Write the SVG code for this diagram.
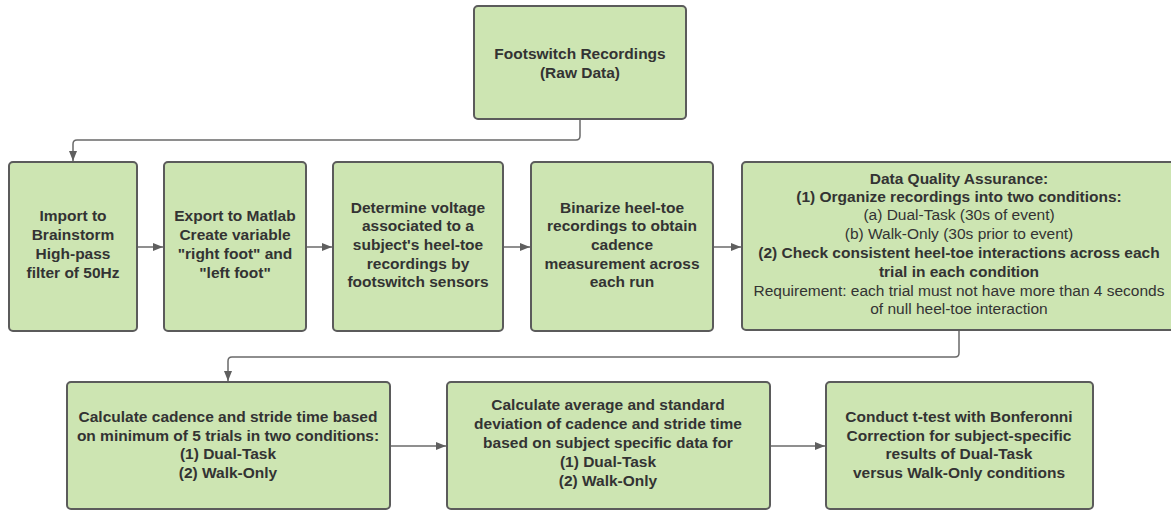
<svg xmlns="http://www.w3.org/2000/svg" width="1171" height="510" viewBox="0 0 1171 510">
<defs>
<marker id="arr" viewBox="0 0 10 8" refX="10" refY="4" markerWidth="10" markerHeight="8" markerUnits="userSpaceOnUse" orient="auto">
<path d="M0,0 L10,4 L0,8 Z" fill="#5f5f5f"/>
</marker>
<style>
.box{fill:#cde5b2;stroke:#5b5b5b;stroke-width:2}
.t{font-family:"Liberation Sans",Arial,sans-serif;font-size:15.5px;fill:#333333;text-anchor:middle}
.b{font-weight:bold}
.c{fill:none;stroke:#6a6a6a;stroke-width:1.5}
</style>
</defs>
<rect width="1171" height="510" fill="#ffffff"/>
<g id="connectors">
<path class="c" d="M580,119 V136 Q580,140 576,140 H77 Q73,140 73,144 V161" marker-end="url(#arr)"/>
<path class="c" d="M137,247 H163" marker-end="url(#arr)"/>
<path class="c" d="M306,247 H332" marker-end="url(#arr)"/>
<path class="c" d="M503,247 H530" marker-end="url(#arr)"/>
<path class="c" d="M713,247 H741" marker-end="url(#arr)"/>
<path class="c" d="M959,330 V353 Q959,357 955,357 H232 Q228,357 228,361 V381" marker-end="url(#arr)"/>
<path class="c" d="M390,446 H446" marker-end="url(#arr)"/>
<path class="c" d="M770,446 H825" marker-end="url(#arr)"/>
</g>
<g id="n0">
<rect class="box" x="474" y="6" width="212" height="113" rx="4"/>
<text class="t b" x="580" y="59">Footswitch Recordings</text>
<text class="t b" x="580" y="78">(Raw Data)</text>
</g>
<g id="n1">
<rect class="box" x="9" y="162" width="128" height="169" rx="4"/>
<text class="t b" x="73" y="221">Import to</text>
<text class="t b" x="73" y="240">Brainstorm</text>
<text class="t b" x="73" y="259">High-pass</text>
<text class="t b" x="73" y="278">filter of 50Hz</text>
</g>
<g id="n2">
<rect class="box" x="164" y="162" width="142" height="169" rx="4"/>
<text class="t b" x="235" y="221">Export to Matlab</text>
<text class="t b" x="235" y="240">Create variable</text>
<text class="t b" x="235" y="259">"right foot" and</text>
<text class="t b" x="235" y="278">"left foot"</text>
</g>
<g id="n3">
<rect class="box" x="333" y="162" width="170" height="169" rx="4"/>
<text class="t b" x="418" y="213">Determine voltage</text>
<text class="t b" x="418" y="231">associated to a</text>
<text class="t b" x="418" y="250">subject's heel-toe</text>
<text class="t b" x="418" y="269">recordings by</text>
<text class="t b" x="418" y="287">footswitch sensors</text>
</g>
<g id="n4">
<rect class="box" x="531" y="162" width="182" height="169" rx="4"/>
<text class="t b" x="622" y="213">Binarize heel-toe</text>
<text class="t b" x="622" y="231">recordings to obtain</text>
<text class="t b" x="622" y="250">cadence</text>
<text class="t b" x="622" y="269">measurement across</text>
<text class="t b" x="622" y="287">each run</text>
</g>
<g id="n5">
<rect class="box" x="742" y="162" width="440" height="168" rx="4"/>
<text class="t b" x="959" y="184">Data Quality Assurance:</text>
<text class="t b" x="959" y="202">(1) Organize recordings into two conditions:</text>
<text class="t" x="959" y="220">(a) Dual-Task (30s of event)</text>
<text class="t" x="959" y="239">(b) Walk-Only (30s prior to event)</text>
<text class="t b" x="959" y="258">(2) Check consistent heel-toe interactions across each</text>
<text class="t b" x="959" y="277">trial in each condition</text>
<text class="t" x="959" y="296">Requirement: each trial must not have more than 4 seconds</text>
<text class="t" x="959" y="314">of null heel-toe interaction</text>
</g>
<g id="n6">
<rect class="box" x="67" y="382" width="323" height="127" rx="4"/>
<text class="t b" x="228" y="422">Calculate cadence and stride time based</text>
<text class="t b" x="228" y="441">on minimum of 5 trials in two conditions:</text>
<text class="t b" x="228" y="459">(1) Dual-Task</text>
<text class="t b" x="228" y="478">(2) Walk-Only</text>
</g>
<g id="n7">
<rect class="box" x="447" y="382" width="323" height="127" rx="4"/>
<text class="t b" x="608" y="410">Calculate average and standard</text>
<text class="t b" x="608" y="429">deviation of cadence and stride time</text>
<text class="t b" x="608" y="448">based on subject specific data for</text>
<text class="t b" x="608" y="467">(1) Dual-Task</text>
<text class="t b" x="608" y="486">(2) Walk-Only</text>
</g>
<g id="n8">
<rect class="box" x="826" y="382" width="267" height="127" rx="4"/>
<text class="t b" x="959" y="422">Conduct t-test with Bonferonni</text>
<text class="t b" x="959" y="441">Correction for subject-specific</text>
<text class="t b" x="959" y="459">results of Dual-Task</text>
<text class="t b" x="959" y="478">versus Walk-Only conditions</text>
</g>
</svg>
